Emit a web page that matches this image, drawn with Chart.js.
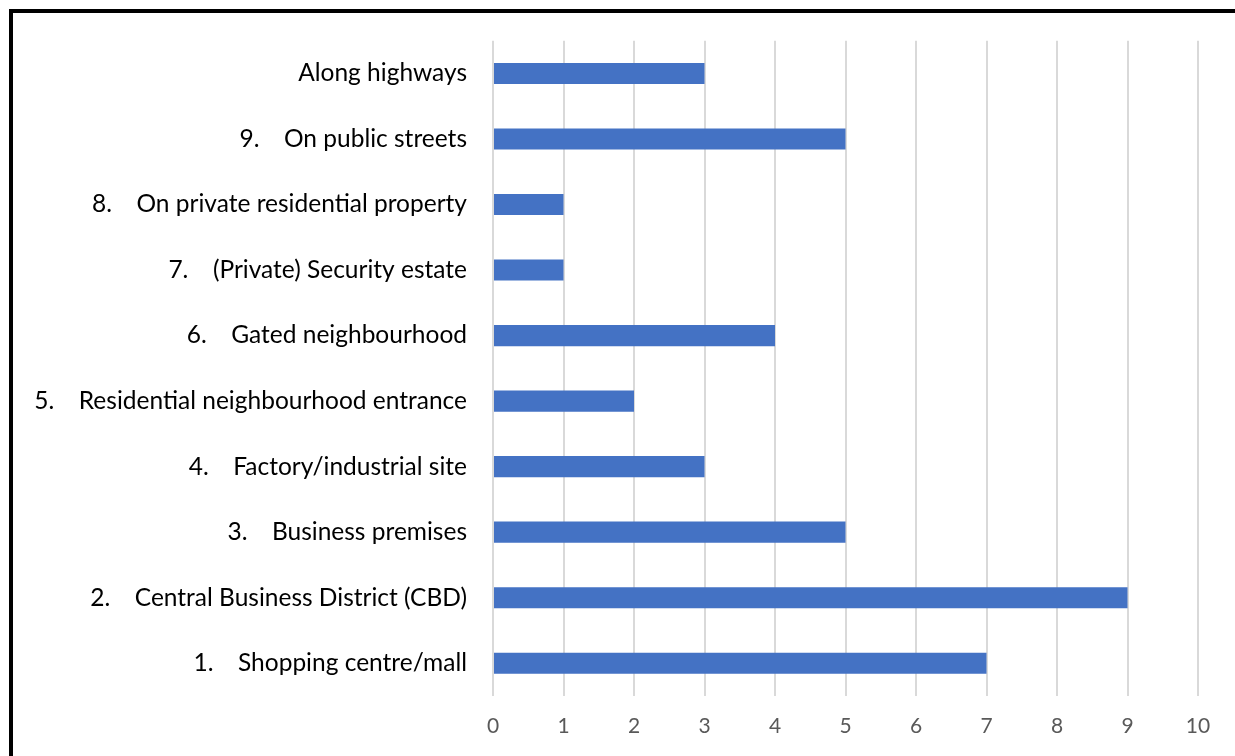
<!DOCTYPE html>
<html>
<head>
<meta charset="utf-8">
<script src="https://cdn.jsdelivr.net/npm/chart.js@4/dist/chart.umd.min.js"></script>
<style>
  html, body { margin: 0; padding: 0; background: #fff; }
  #wrap { position: relative; width: 1235px; height: 756px; overflow: hidden; }
  #frame { position: absolute; left: 9px; top: 9px; width: 1300px; height: 800px;
           border-left: 4px solid #000; border-top: 4px solid #000; box-sizing: border-box; }
  canvas { position: absolute; left: 0; top: 0; }
</style>
</head>
<body>
<div id="wrap">
  <div id="frame"></div>
  <canvas id="chart" width="1235" height="756"></canvas>
</div>
<script>
// categories, top to bottom as in the picture
const numbers = ['', '9.', '8.', '7.', '6.', '5.', '4.', '3.', '2.', '1.'];
const places = [
  'Along highways',
  'On public streets',
  'On private residential property',
  '(Private) Security estate',
  'Gated neighbourhood',
  'Residential neighbourhood entrance',
  'Factory/industrial site',
  'Business premises',
  'Central Business District (CBD)',
  'Shopping centre/mall'
];
const counts = [3, 5, 1, 1, 4, 2, 3, 5, 9, 7];
const xTicks = [0, 1, 2, 3, 4, 5, 6, 7, 8, 9, 10];

const labels = places.map((p, i) => numbers[i] ? numbers[i] + '\u2002\u2002' + p : p);

const ctx = document.getElementById('chart');
new Chart(ctx, {
  type: 'bar',
  data: {
    labels,
    datasets: [{
      data: counts,
      backgroundColor: '#4472C4',
      borderWidth: 0,
      barPercentage: 0.62,
      categoryPercentage: 0.52,
    }]
  },
  options: {
    indexAxis: 'y',
    responsive: false,
    animation: false,
    layout: { padding: { top: 40, right: 37, bottom: 0, left: 0 } },
    plugins: {
      legend: { display: false },
      tooltip: { enabled: false },
    },
    scales: {
      x: {
        min: 0,
        max: 10,
        afterBuildTicks: (scale) => { scale.ticks = xTicks.map((v) => ({ value: v })); },
        ticks: {
          color: '#595959',
          font: { family: 'Lato', size: 21 },
          padding: 18,
        },
        grid: { color: '#d9d9d9', lineWidth: 2, drawTicks: false },
        border: { display: false },
        afterFit: (scale) => { scale.height = 60; },
      },
      y: {
        ticks: {
          color: '#000',
          font: { family: 'Lato', size: 24.5 },
          padding: 26,
        },
        grid: { display: false, drawTicks: false },
        border: { display: false },
        afterFit: (scale) => { scale.width = 493; },
      }
    }
  }
});
</script>
</body>
</html>
